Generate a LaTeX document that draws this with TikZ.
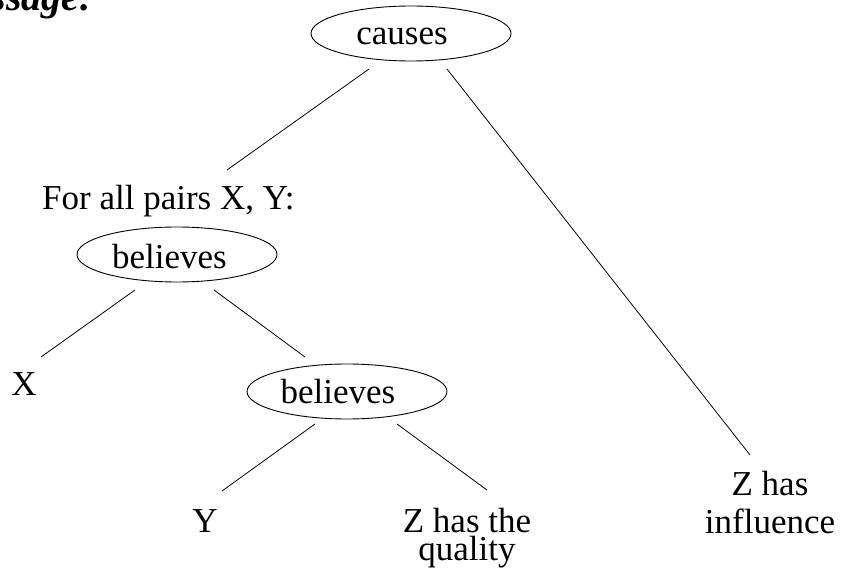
\documentclass[tikz,border=0pt]{standalone}
\usepackage{fontspec}
\setmainfont{Liberation Serif}
\usetikzlibrary{shapes.geometric}
\begin{document}
\begin{tikzpicture}[x=1pt,y=-1pt,
  oval/.style={draw, ellipse, line width=0.9pt, minimum width=200pt, minimum height=55pt, inner sep=0pt, text depth=0pt},
  lbl/.style={inner sep=0pt, font=\fontsize{35}{38}\selectfont},
  edge/.style={line width=0.8pt}]
\useasboundingbox (0,0) rectangle (843,585);
\clip (0,0) rectangle (843,585);
\node[inner sep=0pt, anchor=base east, font=\fontsize{40}{40}\selectfont\bfseries\itshape] (title) at (93,11) {message:};
\node[oval, lbl, text height=23pt] (causes) at (411,33.5) {\hspace{-18pt}causes};
\node[lbl, anchor=base west] (forall) at (42,210) {For all pairs X, Y:};
\node[oval, lbl, text height=28pt] (bel1) at (177,254.5) {\hspace{-15pt}believes};
\node[lbl, anchor=base] (x) at (24,395) {X};
\node[oval, lbl, text height=23pt] (bel2) at (347,391.5) {\hspace{-18pt}believes};
\node[lbl, anchor=base] (y) at (205,532) {Y};
\node[lbl, align=center, anchor=north, font=\fontsize{35}{28}\selectfont] (quality) at (467,508) {Z has the\\quality};
\node[lbl, align=center, anchor=north] (influence) at (770,471) {Z has\\influence};
% connector end points
\coordinate (c1) at (369,69);  \coordinate (f1) at (227,170);
\coordinate (c2) at (447,69);  \coordinate (i2) at (750,455);
\coordinate (b1l) at (135,290); \coordinate (x1) at (41,357);
\coordinate (b1r) at (214,290); \coordinate (b2t) at (305,357);
\coordinate (b2l) at (315,424); \coordinate (y1) at (222,491);
\coordinate (b2r) at (397,424); \coordinate (q1) at (487,490);
\draw[edge] (c1) -- (f1);
\draw[edge] (c2) -- (i2);
\draw[edge] (b1l) -- (x1);
\draw[edge] (b1r) -- (b2t);
\draw[edge] (b2l) -- (y1);
\draw[edge] (b2r) -- (q1);
\end{tikzpicture}
\end{document}
